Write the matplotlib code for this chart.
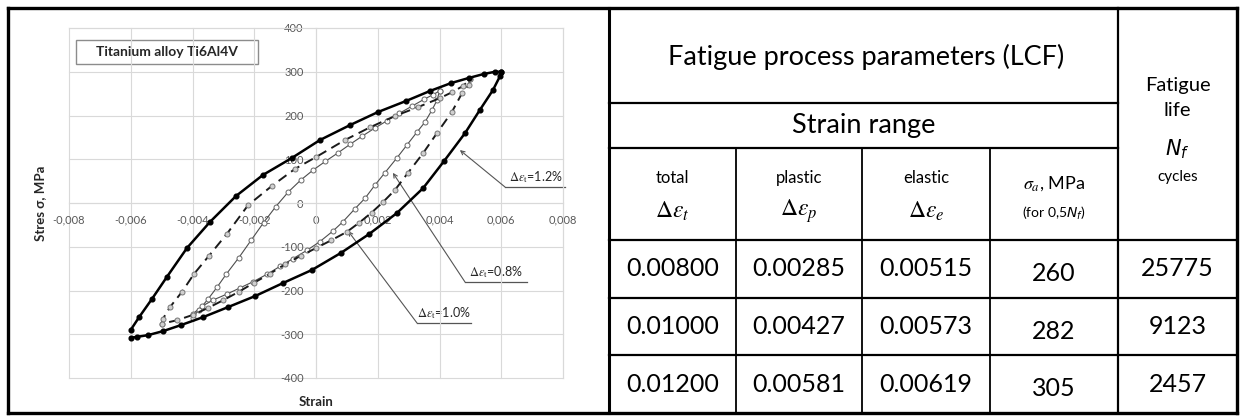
import matplotlib
matplotlib.use('Agg')
import matplotlib.pyplot as plt
from matplotlib.patches import Rectangle

plt.rcParams['font.family'] = ['Lato', 'DejaVu Sans']
plt.rcParams['mathtext.fontset'] = 'stix'

# ---------------- data ----------------
x_ticks = [-0.008, -0.006, -0.004, -0.002, 0.0, 0.002, 0.004, 0.006, 0.008]
x_tick_labels = ['-0,008', '-0,006', '-0,004', '-0,002', '0', '0,002', '0,004', '0,006', '0,008']
y_ticks = [-400, -300, -200, -100, 0, 100, 200, 300, 400]
y_tick_labels = ['-400', '-300', '-200', '-100', '0', '100', '200', '300', '400']

# loop 1.2 % (thick line, filled dots)
thick_up_x = [-0.0060, -0.00573, -0.00531, -0.00483, -0.00418, -0.00343, -0.00259, -0.00172,
              -0.00078, 0.00013, 0.00110, 0.00201, 0.00291, 0.00369, 0.00437, 0.00496,
              0.00544, 0.00580, 0.00600]
thick_up_y = [-290, -261, -219, -169, -103, -43, 16, 64, 103, 144, 178, 208, 233, 256, 274,
              286, 295, 300, 300]
thick_dn_x = [0.00600, 0.00596, 0.00573, 0.00531, 0.00483, 0.00415, 0.00347, 0.00262, 0.00172,
              0.00081, -0.00013, -0.00107, -0.00198, -0.00285, -0.00366, -0.00437, -0.00496,
              -0.00544, -0.00580, -0.00600]
thick_dn_y = [300, 290, 258, 213, 160, 96, 34, -23, -71, -114, -153, -183, -213, -238, -261,
              -279, -293, -302, -306, -308]

# loop 1.0 % (dashed line, grey dots)
dash_up_x = [-0.0050, -0.00496, -0.00473, -0.00434, -0.00395, -0.00347, -0.00288, -0.00220,
             -0.00143, -0.00068, 0.0000, 0.00094, 0.00175, 0.00256, 0.00330, 0.00402, 0.00440,
             0.00475, 0.00500]
dash_up_y = [-277, -265, -238, -203, -162, -121, -70, -5, 39, 78, 105, 144, 173, 199, 219, 240,
             253, 267, 283]
dash_dn_x = [0.00500, 0.00495, 0.00473, 0.00440, 0.00392, 0.00347, 0.00298, 0.00256, 0.00217,
             0.00180, 0.00140, 0.00100, 0.00050, 0.0000, -0.00050, -0.00100, -0.00150, -0.00200,
             -0.00250, -0.00300, -0.00350, -0.00400, -0.00450, -0.00500]
dash_dn_y = [283, 270, 251, 208, 160, 114, 69, 30, 2, -22, -45, -66, -85, -103, -121, -140, -162,
             -182, -203, -222, -240, -256, -268, -276]

# loop 0.8 % (thin line, hollow circles)
thin_up_x = [-0.0040, -0.0038, -0.0035, -0.0032, -0.0029, -0.0025, -0.0021, -0.0017, -0.0013,
             -0.0009, -0.0005, -0.0001, 0.0003, 0.0007, 0.0011, 0.0015, 0.0019, 0.0023, 0.0027,
             0.0031, 0.0035, 0.0038, 0.0040]
thin_up_y = [-262, -245, -220, -192, -162, -125, -85, -45, -8, 25, 52, 75, 95, 114, 134, 153, 171,
             188, 205, 221, 237, 248, 256]
thin_dn_x = [0.0040, 0.00392, 0.00376, 0.00353, 0.00327, 0.00295, 0.00262, 0.00223, 0.00191,
             0.00159, 0.00125, 0.00087, 0.00055, 0.00013, -0.00029, -0.00074, -0.00117, -0.00159,
             -0.00204, -0.00246, -0.00288, -0.00334, -0.00369, -0.0040]
thin_dn_y = [256, 235, 213, 185, 162, 133, 103, 69, 41, 11, -14, -43, -64, -88, -108, -127, -145,
             -163, -180, -194, -208, -222, -236, -254]

# table
col_total = ['0.00800', '0.01000', '0.01200']
col_plastic = ['0.00285', '0.00427', '0.00581']
col_elastic = ['0.00515', '0.00573', '0.00619']
col_sigma = ['260', '282', '305']
col_life = ['25775', '9123', '2457']

W, H = 1240, 416
fig = plt.figure(figsize=(W / 100, H / 100), dpi=100)

# ---------- frame / table layer (pixel coordinates, y downward) ----------
fa = fig.add_axes([0, 0, 1, 1])
fa.set_xlim(0, W)
fa.set_ylim(H, 0)
fa.axis('off')

def hline(y, x0, x1, lw=1.6):
    fa.plot([x0, x1], [y, y], color='black', lw=lw, solid_capstyle='projecting')

def vline(x, y0, y1, lw=1.6):
    fa.plot([x, x], [y0, y1], color='black', lw=lw, solid_capstyle='projecting')

L, T, R, B = 7.5, 8, 1237, 413
for y in (T, B):
    hline(y, L, R, lw=2.4)
for x in (L, R):
    vline(x, T, B, lw=2.4)
vline(609, T, B, lw=2.2)

col_edges = [609, 736, 862, 990, 1118, R]
row_edges = [240, 297.5, 355, B]
hline(103, 609, 1118)
hline(148, 609, 1118)
for y in row_edges[:-1]:
    hline(y, 609, R)
vline(1118, T, B)
for x in col_edges[1:4]:
    vline(x, 148, B, lw=1.3)

cx = [(col_edges[i] + col_edges[i + 1]) / 2 for i in range(5)]
fa.text(866, 57, 'Fatigue process parameters (LCF)', fontsize=19.5, ha='center', va='center')
fa.text(864, 126, 'Strain range', fontsize=19.5, ha='center', va='center')
fa.text(cx[4], 86, 'Fatigue', fontsize=14.5, ha='center', va='center')
fa.text(cx[4], 111, 'life', fontsize=14.5, ha='center', va='center')
fa.text(cx[4], 149, r'$N_f$', fontsize=15, ha='center', va='center',
        math_fontfamily='dejavusans')
fa.text(cx[4], 177, 'cycles', fontsize=11, ha='center', va='center')

fa.text(cx[0], 178, 'total', fontsize=12, ha='center', va='center')
fa.text(cx[1], 178, 'plastic', fontsize=12, ha='center', va='center')
fa.text(cx[2], 178, 'elastic', fontsize=12, ha='center', va='center')
fa.text(cx[3], 184, r'$\sigma_a$, MPa', fontsize=13, ha='center', va='center')
fa.text(cx[0], 211, r'$\Delta\varepsilon_t$', fontsize=17, ha='center', va='center')
fa.text(cx[1], 211, r'$\Delta\varepsilon_p$', fontsize=17, ha='center', va='center')
fa.text(cx[2], 211, r'$\Delta\varepsilon_e$', fontsize=17, ha='center', va='center')
fa.text(cx[3], 213, r'(for 0,5$N_f$)', fontsize=10, ha='center', va='center',
        math_fontfamily='dejavusans')

row_c = [(row_edges[i] + row_edges[i + 1]) / 2 for i in range(3)]
for r in range(3):
    for c, col in enumerate([col_total, col_plastic, col_elastic, col_sigma, col_life]):
        dy = 5 if c == 3 else 0
        fa.text(cx[c], row_c[r] + dy, col[r], fontsize=18, ha='center', va='center')

# title box of the chart
fa.add_patch(Rectangle((76, 40), 182, 24, fill=False, ec='#8c8c8c', lw=1.0))
fa.text(167, 52, 'Titanium alloy Ti6Al4V', fontsize=10, fontweight='bold', ha='center',
        va='center', color='#262626')

# ---------- chart ----------
ax = fig.add_axes([69 / W, 1 - 378 / H, 494 / W, 350 / H])
ax.patch.set_alpha(0)
ax.set_xlim(-0.008, 0.008)
ax.set_ylim(-400, 400)
ax.set_xticks(x_ticks)
ax.set_xticklabels(x_tick_labels)
ax.set_yticks(y_ticks)
ax.set_yticklabels(y_tick_labels)
ax.spines['left'].set_position(('data', 0))
ax.spines['bottom'].set_position(('data', 0))
for s in ax.spines.values():
    s.set_color('#d9d9d9')
    s.set_linewidth(0.8)
ax.grid(True, color='#d9d9d9', lw=0.8)
for gl in ax.get_xgridlines() + ax.get_ygridlines():
    gl.set_clip_on(False)
ax.set_axisbelow(True)
ax.tick_params(axis='both', length=0, labelsize=8, labelcolor='#595959')
ax.tick_params(axis='y', pad=9)
ax.tick_params(axis='x', pad=8.5)

ax.set_ylabel('Stres σ, MPa', fontsize=9.5, fontweight='bold', color='#262626')
ax.yaxis.set_label_coords((40 - 69) / 494, 0.5)
ax.set_xlabel('Strain', fontsize=9.5, fontweight='bold', color='#262626')
ax.xaxis.set_label_coords(0.5, (378 - 402) / 350)
ax.xaxis.label.set_va('center')
ax.yaxis.label.set_va('center')

ax.plot(thin_up_x + thin_dn_x, thin_up_y + thin_dn_y, color='#4d4d4d', lw=0.8, marker='o',
        ms=3.6, mfc='white', mec='#666666', mew=0.7, zorder=3)
ax.plot(dash_up_x + dash_dn_x, dash_up_y + dash_dn_y, color='#1a1a1a', lw=1.4,
        ls=(0, (5, 3)), marker='o', ms=3.6, mfc='#d0d0d0', mec='#777777', mew=0.7, zorder=4)
ax.plot(thick_up_x + thick_dn_x, thick_up_y + thick_dn_y, color='black', lw=1.8, marker='o',
        ms=3.4, mfc='black', mec='black', zorder=5)

# call-outs
callouts = [
    (r'$\Delta\varepsilon_\mathrm{t}$=1.2%', (0.00466, 121), (505, 187), 565, 536, 177),
    (r'$\Delta\varepsilon_\mathrm{t}$=0.8%', (0.00249, 69), (465, 282), 527, 496, 272),
    (r'$\Delta\varepsilon_\mathrm{t}$=1.0%', (0.00104, -64), (417, 323), 471, 444, 313),
]
for txt, tip, tail, uend, tx, ty in callouts:
    ax.annotate('', xy=tip, xycoords='data', xytext=(tail[0], H - tail[1]),
                textcoords='figure pixels',
                arrowprops=dict(arrowstyle='->', color='#555555', lw=0.8,
                                shrinkA=0, shrinkB=0, mutation_scale=7))
    fa.plot([tail[0], uend], [tail[1], tail[1]], color='#555555', lw=0.9)
    fa.text(tx, ty, txt, fontsize=9, ha='center', va='center', color='#262626')

fig.savefig('out.png', dpi=100)
